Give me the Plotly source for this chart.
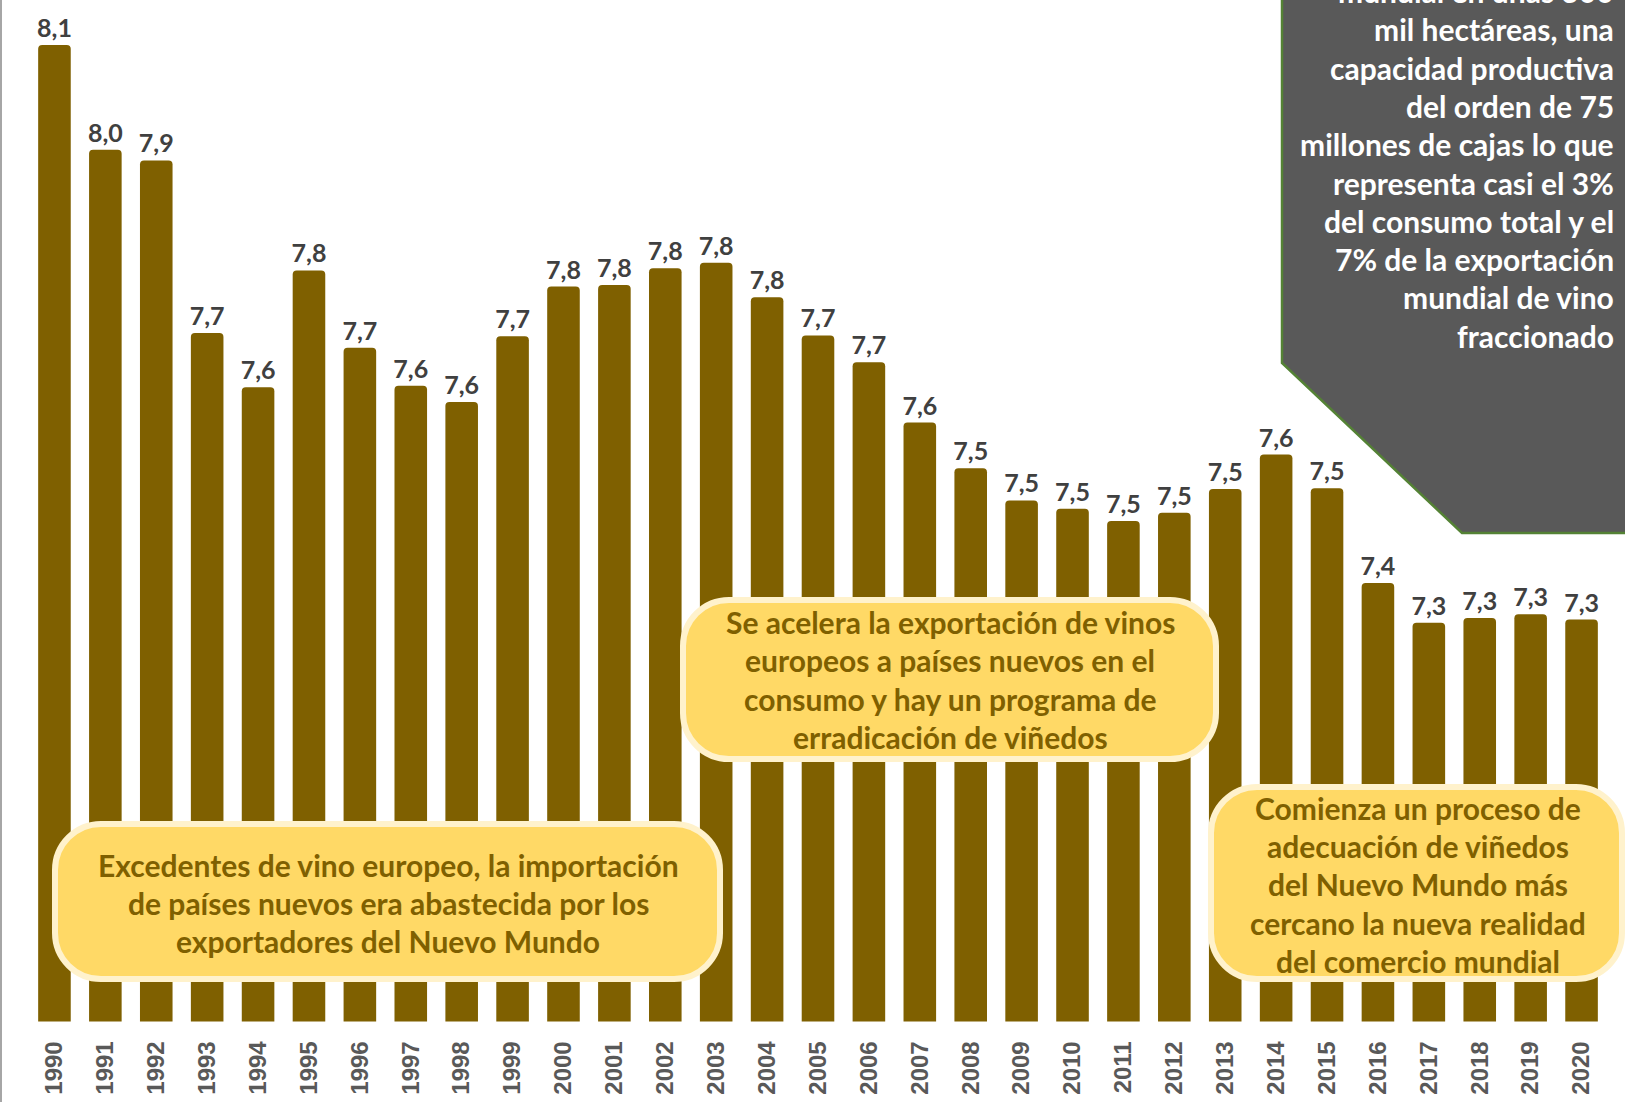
import plotly.graph_objects as go

# Figure size in pixels
W, H = 1625, 1102

# Years shown on the category axis
years = ["1990", "1991", "1992", "1993", "1994", "1995", "1996", "1997",
         "1998", "1999", "2000", "2001", "2002", "2003", "2004", "2005",
         "2006", "2007", "2008", "2009", "2010", "2011", "2012", "2013",
         "2014", "2015", "2016", "2017", "2018", "2019", "2020"]

# Yearly values (labels show them rounded to one decimal)
values = [8.094, 7.957, 7.943, 7.717, 7.646, 7.799, 7.698, 7.648,
          7.627, 7.713, 7.778, 7.780, 7.802, 7.809, 7.764, 7.714,
          7.679, 7.600, 7.540, 7.498, 7.487, 7.471, 7.482, 7.513,
          7.558, 7.514, 7.390, 7.338, 7.344, 7.349, 7.342]

# Visible value window of the y axis
y_range = [6.816, 8.153]

# Callout texts, one entry per line
box_left_lines = ["Excedentes de vino europeo, la importación",
                  "de países nuevos era abastecida por los",
                  "exportadores del Nuevo Mundo"]
box_mid_lines = ["Se acelera la exportación de vinos",
                 "europeos a países nuevos en el",
                 "consumo y hay un programa de",
                 "erradicación de viñedos"]
box_right_lines = ["Comienza un proceso de",
                   "adecuación de viñedos",
                   "del Nuevo Mundo más",
                   "cercano la nueva realidad",
                   "del comercio mundial"]
side_note_lines = ["mundial en unas 300",
                   "mil hectáreas, una",
                   "capacidad productiva",
                   "del orden de 75",
                   "millones de cajas lo que",
                   "representa casi el 3%",
                   "del consumo total y el",
                   "7% de la exportación",
                   "mundial de vino",
                   "fraccionado"]

BAR = "#7F6000"
CALLOUT_FILL = "#FFD966"
CALLOUT_EDGE = "#FFF2CC"
LABEL_FONT = "Lato"


def px(x):
    return x / W


def py(y):
    return 1 - y / H


def rounded_box(x0, y0, x1, y1, r):
    k = 0.5523 * r
    pts = [
        ("M", [(x0 + r, y0)]),
        ("L", [(x1 - r, y0)]),
        ("C", [(x1 - r + k, y0), (x1, y0 + r - k), (x1, y0 + r)]),
        ("L", [(x1, y1 - r)]),
        ("C", [(x1, y1 - r + k), (x1 - r + k, y1), (x1 - r, y1)]),
        ("L", [(x0 + r, y1)]),
        ("C", [(x0 + r - k, y1), (x0, y1 - r + k), (x0, y1 - r)]),
        ("L", [(x0, y0 + r)]),
        ("C", [(x0, y0 + r - k), (x0 + r - k, y0), (x0 + r, y0)]),
    ]
    out = []
    for cmd, coords in pts:
        out.append(cmd + " " + " ".join(f"{px(a):.5f},{py(b):.5f}" for a, b in coords))
    return " ".join(out) + " Z"


fig = go.Figure(
    go.Bar(
        x=years,
        y=values,
        width=0.64,
        marker=dict(color=BAR, cornerradius=4, line=dict(width=0)),
        texttemplate="%{y:.1f}",
        textposition="outside",
        constraintext="none",
        textfont=dict(family=LABEL_FONT, size=25, color="#404040", weight="bold"),
        hoverinfo="x+y",
    )
)

shapes = []
# thin grey frame line on the left edge
shapes.append(dict(type="line", xref="paper", yref="paper",
                   x0=px(1), x1=px(1), y0=0, y1=1,
                   line=dict(color="#A6A6A6", width=2), layer="above"))

# callout boxes (outer edge minus half the border width)
for (x0, y0, x1, y1) in [(55, 824, 720, 979), (683, 600, 1216, 759), (1211, 787, 1622, 979)]:
    shapes.append(dict(type="path", xref="paper", yref="paper",
                       path=rounded_box(x0, y0, x1, y1, 46),
                       fillcolor=CALLOUT_FILL,
                       line=dict(color=CALLOUT_EDGE, width=6), layer="above"))

# dark side note panel in the upper right
panel = (f"M {px(1282)},{py(-10)} L {px(1282)},{py(363)} L {px(1462)},{py(533)} "
         f"L {px(1640)},{py(533)} L {px(1640)},{py(-10)} Z")
shapes.append(dict(type="path", xref="paper", yref="paper", path=panel,
                   fillcolor="#595959", line=dict(color="#548235", width=2.5),
                   layer="above"))

annotations = []


def add_lines(lines, cx, first_cy, step, color, anchor="center"):
    for i, t in enumerate(lines):
        annotations.append(dict(
            xref="paper", yref="paper", x=px(cx), y=py(first_cy + i * step),
            text=t, showarrow=False, xanchor=anchor, yanchor="middle",
            align=anchor if anchor != "center" else "center",
            font=dict(family=LABEL_FONT, size=30, color=color, weight="bold"),
        ))


add_lines(box_left_lines, 388, 865, 38, BAR)
add_lines(box_mid_lines, 950, 622, 38.3, BAR)
add_lines(box_right_lines, 1418, 808, 38.2, BAR)
add_lines(side_note_lines, 1616, -9, 38.3, "white", anchor="right")

fig.update_layout(
    width=W, height=H,
    margin=dict(l=0, r=0, t=0, b=0),
    paper_bgcolor="white", plot_bgcolor="white",
    separators=",.",
    showlegend=False,
    bargap=0.36,
    shapes=shapes,
    annotations=annotations,
    xaxis=dict(
        domain=[px(29), px(1607)],
        type="category",
        tickangle=-90,
        ticks="",
        ticklabelstandoff=14,
        tickfont=dict(family="Liberation Sans", size=24, color="#595959", weight="bold"),
        showgrid=False, zeroline=False, showline=False, automargin=False,
    ),
    yaxis=dict(
        domain=[py(1021.5), 1],
        range=y_range,
        visible=False, showgrid=False, zeroline=False, automargin=False,
    ),
)

fig.write_html("out.html")
